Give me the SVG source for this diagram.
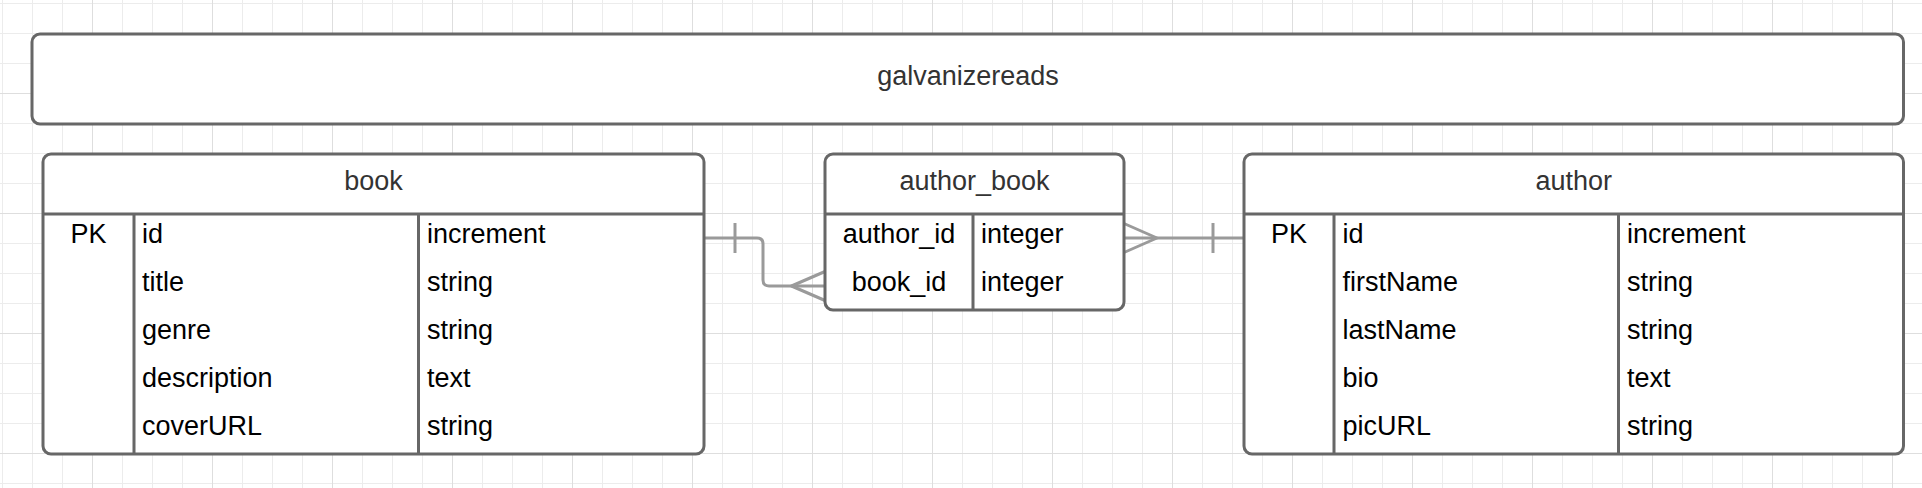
<svg xmlns="http://www.w3.org/2000/svg" width="1922" height="488" viewBox="0 0 1922 488">
  <defs>
    <pattern id="grid" patternUnits="userSpaceOnUse" x="92" y="93" width="120" height="120">
      <path d="M30.5 0V120M60.5 0V120M90.5 0V120M0 30.5H120M0 60.5H120M0 90.5H120" stroke="#ececec" stroke-width="1" fill="none"/>
      <path d="M0.5 0V120M0 0.5H120" stroke="#dedede" stroke-width="1" fill="none"/>
    </pattern>
  </defs>
  <style>
    .box { fill: #ffffff; stroke: #676767; stroke-width: 3; }
    .div { stroke: #676767; stroke-width: 3; fill: none; }
    .conn { stroke: #9a9a9a; stroke-width: 3; fill: none; stroke-linejoin: round; }
    .hdr { font-family: "Liberation Sans", Arial, sans-serif; font-size: 27px; fill: #333333; text-anchor: middle; }
    .cell { font-family: "Liberation Sans", Arial, sans-serif; font-size: 27px; fill: #000000; }
    .mid { text-anchor: middle; }
  </style>
  <rect x="0" y="0" width="1922" height="488" fill="#ffffff"/>
  <rect x="0" y="0" width="1922" height="488" fill="url(#grid)"/>

  <g id="connectors">
    <path class="conn" d="M704 238H757Q763 238 763 244V280Q763 286 769 286H825"/>
    <path class="conn" d="M735 223V253"/>
    <path class="conn" d="M825 271.5L791.5 286L825 300.5"/>
    <path class="conn" d="M1124 238H1244"/>
    <path class="conn" d="M1124 223.5L1157 238L1124 252.5"/>
    <path class="conn" d="M1213 223V253"/>
  </g>

  <g id="galvanizereads">
    <rect class="box" x="32" y="34" width="1871.5" height="90" rx="8"/>
    <text class="hdr" x="968" y="85">galvanizereads</text>
  </g>

  <g id="book">
    <rect class="box" x="43" y="154" width="661" height="300" rx="8"/>
    <path class="div" d="M43 214H704M134 214V454M418.5 214V454"/>
    <text class="hdr" x="373.5" y="190">book</text>
    <text class="cell mid" x="88.5" y="243">PK</text>
    <text class="cell" x="142" y="243">id</text>
    <text class="cell" x="142" y="291">title</text>
    <text class="cell" x="142" y="339">genre</text>
    <text class="cell" x="142" y="387">description</text>
    <text class="cell" x="142" y="435">coverURL</text>
    <text class="cell" x="427" y="243">increment</text>
    <text class="cell" x="427" y="291">string</text>
    <text class="cell" x="427" y="339">string</text>
    <text class="cell" x="427" y="387">text</text>
    <text class="cell" x="427" y="435">string</text>
  </g>

  <g id="author_book">
    <rect class="box" x="825" y="154" width="299" height="156" rx="8"/>
    <path class="div" d="M825 214H1124M973 214V310"/>
    <text class="hdr" x="974.5" y="190">author_book</text>
    <text class="cell mid" x="899" y="243">author_id</text>
    <text class="cell mid" x="899" y="291">book_id</text>
    <text class="cell" x="981" y="243">integer</text>
    <text class="cell" x="981" y="291">integer</text>
  </g>

  <g id="author">
    <rect class="box" x="1244" y="154" width="659.5" height="300" rx="8"/>
    <path class="div" d="M1244 214H1903.5M1334 214V454M1618.5 214V454"/>
    <text class="hdr" x="1573.75" y="190">author</text>
    <text class="cell mid" x="1289" y="243">PK</text>
    <text class="cell" x="1342.5" y="243">id</text>
    <text class="cell" x="1342.5" y="291">firstName</text>
    <text class="cell" x="1342.5" y="339">lastName</text>
    <text class="cell" x="1342.5" y="387">bio</text>
    <text class="cell" x="1342.5" y="435">picURL</text>
    <text class="cell" x="1627" y="243">increment</text>
    <text class="cell" x="1627" y="291">string</text>
    <text class="cell" x="1627" y="339">string</text>
    <text class="cell" x="1627" y="387">text</text>
    <text class="cell" x="1627" y="435">string</text>
  </g>
</svg>
